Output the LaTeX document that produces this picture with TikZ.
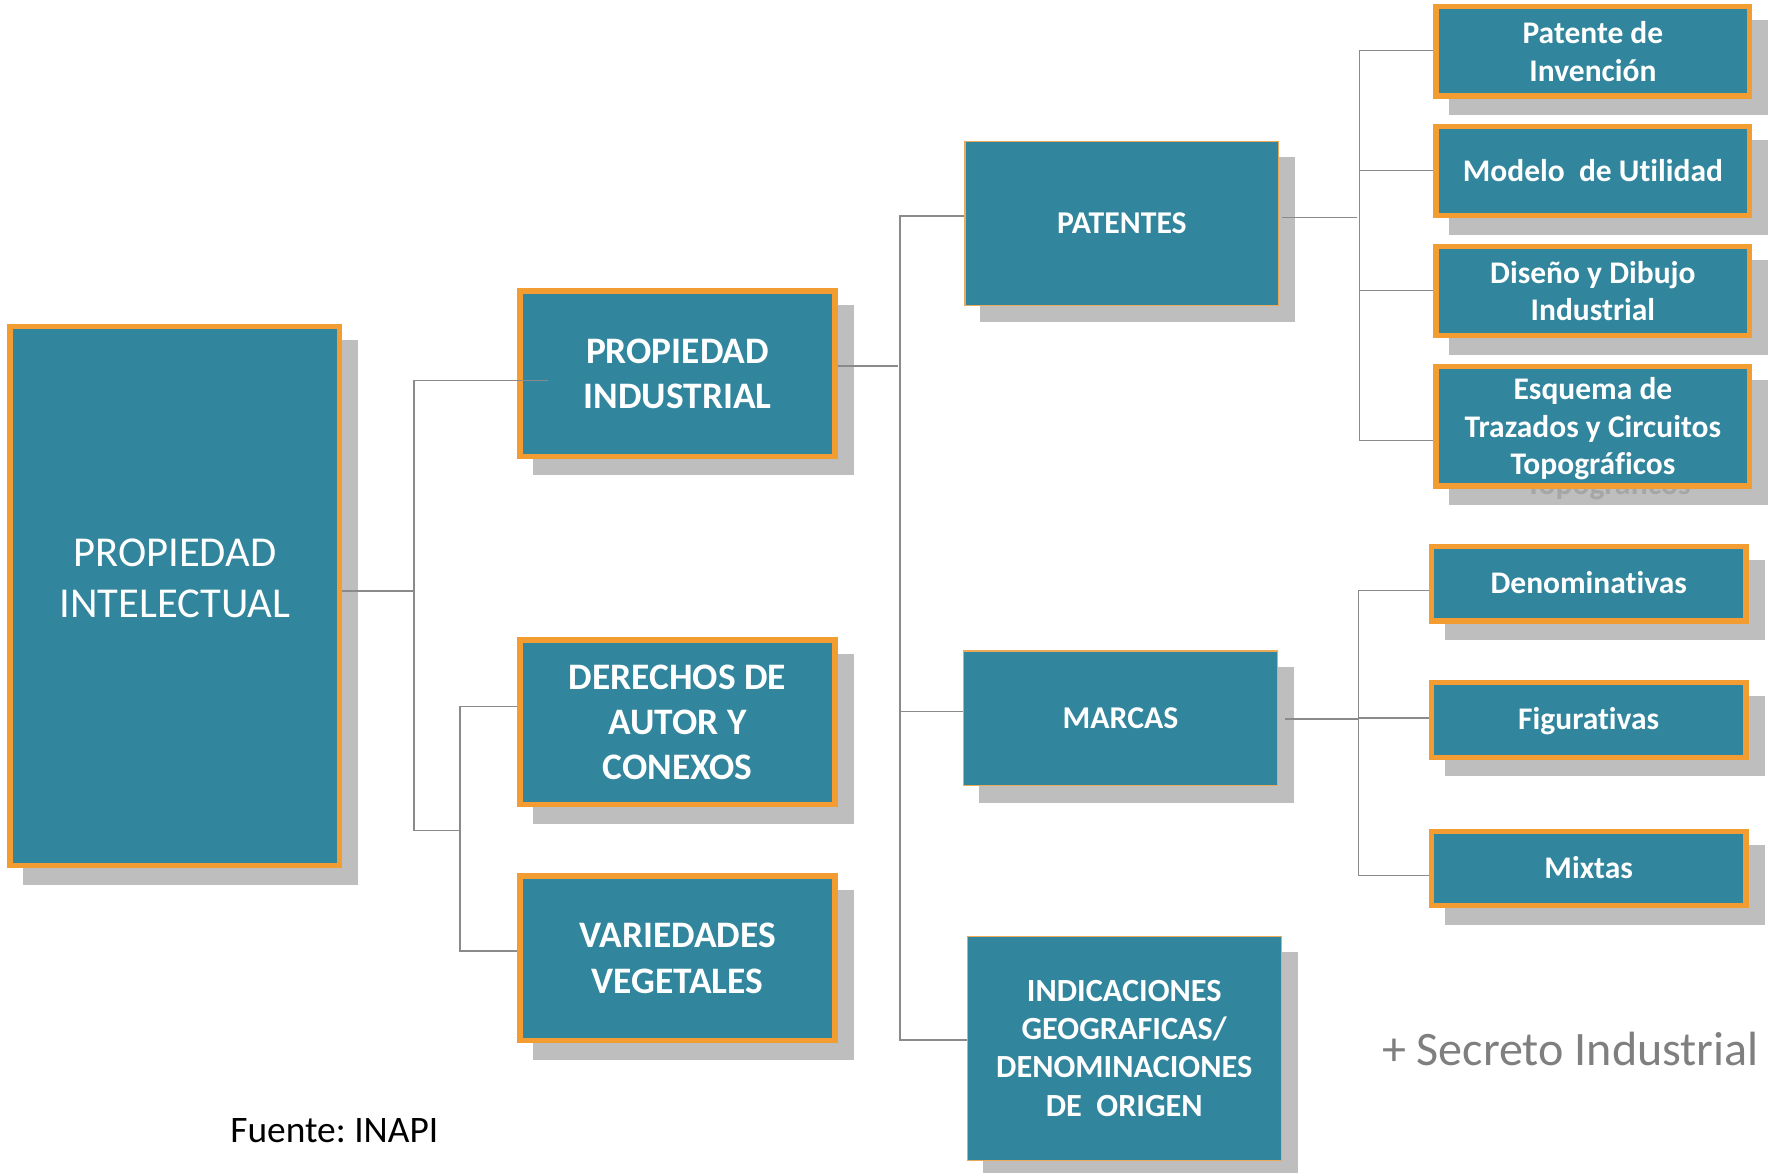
\documentclass[tikz,border=0pt]{standalone}
\usepackage{fontspec}
\setmainfont{Carlito}[Ligatures=NoCommon]
\usetikzlibrary{backgrounds}
\definecolor{boxfill}{HTML}{31859C}
\definecolor{boxedge}{HTML}{F39C32}
\definecolor{thinedge}{HTML}{EBA95A}
\definecolor{shadowc}{HTML}{BEBEBE}
\definecolor{ghostc}{HTML}{A6A6A6}
\definecolor{connc}{HTML}{8A8A8A}
\definecolor{secretc}{HTML}{7F7F7F}
\begin{document}
\frenchspacing
\begin{tikzpicture}[x=0.5pt,y=-0.5pt,
  box/.style={draw=boxedge, line width=2.35pt, fill=boxfill, text=white, align=center, inner sep=0pt},
  thinbox/.style={draw=thinedge, line width=0.5pt, fill=boxfill, text=white, align=center, inner sep=0pt},
  fbig/.style={font=\fontsize{18.8pt}{22.4pt}\selectfont},
  fmid/.style={font=\fontsize{16.5pt}{20pt}\selectfont\bfseries},
  fpat/.style={font=\fontsize{14pt}{17pt}\selectfont\bfseries, text height=8.9pt, text depth=0pt},
  find/.style={font=\fontsize{14.25pt}{16.9pt}\selectfont\bfseries},
  fsmall/.style={font=\fontsize{13.9pt}{16.55pt}\selectfont\bfseries},
  fone/.style={fsmall, text height=8.8pt, text depth=0pt},
  col2/.style={box, fmid, minimum width=139pt},
  col4/.style={box, minimum width=138.4pt},
  col5/.style={box, fone, minimum width=138.8pt},
  conn/.style={draw=connc, line width=0.65pt},
  shadowbox/.style={fill=shadowc},
  ghost/.style={fsmall, text=ghostc, inner sep=0pt},
  note/.style={inner sep=0pt}]
\useasboundingbox (0,0) rectangle (1568,1035);
\begin{scope}[on background layer]
  \fill[white] (0,0) rectangle (1568,1035);
\end{scope}

% first column
\node[box, fbig, minimum width=145.45pt, minimum height=237.95pt] (pi) at (154.3,525.9)
  {PROPIEDAD\\\raisebox{0pt}[\height][16pt]{INTELECTUAL}};

% second column
\node[col2, minimum height=72.95pt] (pind) at (597.85,329.7) {PROPIEDAD\\INDUSTRIAL};
\node[col2, minimum height=72.65pt] (der) at (597.85,637.4) {DERECHOS DE\\AUTOR Y\\CONEXOS};
\node[col2, minimum height=72.65pt] (var) at (597.85,845.6) {VARIEDADES\\VEGETALES};

% third column
\node[thinbox, fpat, minimum width=138.45pt, minimum height=72.15pt] (pat) at (989.95,197.05) {PATENTES};
\node[thinbox, fpat, minimum width=138.75pt, minimum height=59.35pt] (mar) at (988.75,633.75) {MARCAS};
\node[thinbox, find, minimum width=138.5pt, minimum height=98.8pt] (ind) at (992,924.9)
  {INDICACIONES\\GEOGRAFICAS/\\DENOMINACIONES\\DE\ \ ORIGEN};

% fourth column
\node[col4, fsmall, minimum height=39.45pt] (pdi) at (1405.55,45.3) {Patente de\\Invención};
\node[col4, fone, minimum height=39.25pt] (mdu) at (1405.55,151) {Modelo\ \ de Utilidad};
\node[col4, fsmall, minimum height=39.25pt] (ddi) at (1405.55,256.9) {Diseño y Dibujo\\Industrial};
\node[col4, fsmall, minimum height=52.65pt] (esq) at (1405.55,376.2)
  {Esquema de\\Trazados y Circuitos\\\raisebox{0pt}[\height][0pt]{Topográficos}};

% fifth column
\node[col5, minimum height=32.8pt] (den) at (1401.85,515.15) {Denominativas};
\node[col5, minimum height=32.95pt] (fig) at (1401.85,635.3) {Figurativas};
\node[col5, minimum height=32.65pt] (mix) at (1401.85,766.5) {Mixtas};

% free texts
\node[note, anchor=base, font=\fontsize{21.2pt}{25pt}\selectfont, text=secretc] (sec) at (1385.7,939.8) {+ Secreto Industrial};
\node[note, anchor=base, font=\fontsize{16.5pt}{20pt}\selectfont, text=black] (src) at (295,1008.3) {Fuente: INAPI};

% shadows
\begin{scope}[on background layer]
  \foreach \n in {pi,pind,der,var,pat,mar,ind,pdi,mdu,ddi,esq,den,fig,mix}
    \fill[shadowbox] ([shift={(14,14.5)}]\n.north west) rectangle ([shift={(14,14.5)}]\n.south east);
  \node[ghost, anchor=base] (ghostesq) at (1419,436) {Topográficos};
\end{scope}

% connectors: tree 1
\coordinate (ja) at (365.5,521.5);
\coordinate (jb) at (365.5,335.9);
\coordinate (jc) at (365.5,733);
\coordinate (jd) at (405.9,733);
\coordinate (je) at (405.9,623.5);
\coordinate (jf) at (405.9,839.2);
\draw[conn] (pi.east |- ja) -- (ja);
\draw[conn] ([xshift=13.5pt]pind.west |- jb) -- (jb) -- (jc) -- (jd);
\draw[conn] (der.west |- je) -- (je) -- (jf) -- (var.west |- jf);

% tree 2
\coordinate (ka) at (792.1,323);
\coordinate (kt) at (794.2,190.6);
\coordinate (km) at (794.2,627.7);
\coordinate (kb) at (794.2,917.7);
\draw[conn] (pind.east |- ka) -- (ka);
\draw[conn] (pat.west |- kt) -- (kt) -- (kb) -- (ind.west |- kb);
\draw[conn] (km) -- (mar.west |- km);

% tree 3
\coordinate (la) at (1197.7,191.7);
\coordinate (l1) at (1199.5,44.7);
\coordinate (l2) at (1199.5,150.6);
\coordinate (l3) at (1199.5,256.5);
\coordinate (l4) at (1199.5,388.9);
\draw[conn] ([xshift=1.3pt]pat.east |- la) -- (la);
\draw[conn] (pdi.west |- l1) -- (l1) -- (l4) -- (esq.west |- l4);
\draw[conn] (l2) -- (mdu.west |- l2);
\draw[conn] (l3) -- (ddi.west |- l3);

% tree 4
\coordinate (ma) at (1199,634.3);
\coordinate (m1) at (1198.9,521.2);
\coordinate (m2) at (1198.9,633.6);
\coordinate (m3) at (1198.9,772.7);
\draw[conn] ([xshift=3pt]mar.east |- ma) -- (ma);
\draw[conn] (den.west |- m1) -- (m1) -- (m3) -- (mix.west |- m3);
\draw[conn] (m2) -- (fig.west |- m2);
\end{tikzpicture}
\end{document}
